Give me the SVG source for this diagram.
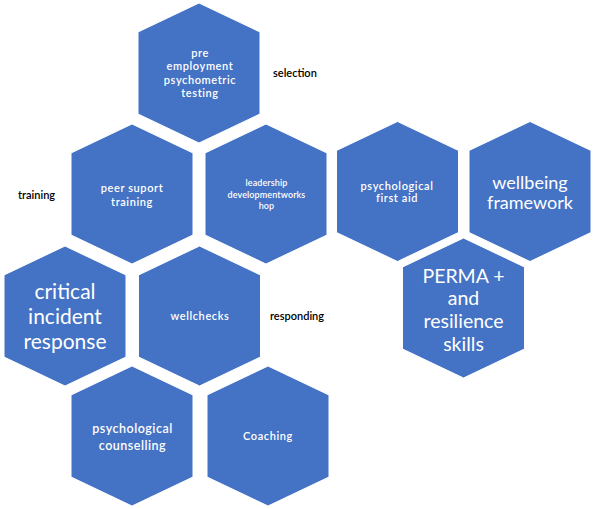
<svg xmlns="http://www.w3.org/2000/svg" width="596" height="509" viewBox="0 0 596 509">
<defs>
<style>
.hex{fill:#4472C4;stroke:#ffffff;stroke-width:1}
text{font-family:Lato,"Liberation Sans",sans-serif;text-anchor:middle;dominant-baseline:central}
.w{fill:#ffffff}
.s{font-size:11px;letter-spacing:0.6px;font-weight:600}
.xs{font-size:9px;font-weight:600;letter-spacing:0.1px}
.m{font-size:12.5px;letter-spacing:0.5px;font-weight:600}
.l{font-size:18px}
.xl{font-size:21px}
.p{font-size:19.5px}
.lab{fill:#000000;font-size:11px;font-weight:600;text-anchor:start}
</style>
<path id="hx" d="M0,-70 L61,-41 L61,41 L0,70 L-61,41 L-61,-41 Z"/>
</defs>
<rect width="596" height="509" fill="#ffffff"/>
<g id="n-pre">
<use href="#hx" class="hex" x="199" y="73"/>
<text class="w s" x="200" y="52">pre</text>
<text class="w s" x="200" y="65.5">employment</text>
<text class="w s" x="200" y="79">psychometric</text>
<text class="w s" x="200" y="92.5">testing</text>
</g>
<g id="n-peer">
<use href="#hx" class="hex" x="132" y="194"/>
<text class="w s" x="132" y="187.5">peer suport</text>
<text class="w s" x="132" y="201">training</text>
</g>
<g id="n-leadership">
<use href="#hx" class="hex" x="266" y="194"/>
<text class="w xs" x="266.5" y="182.5">leadership</text>
<text class="w xs" x="266.5" y="194">developmentworks</text>
<text class="w xs" x="266.5" y="205.5">hop</text>
</g>
<g id="n-pfa">
<use href="#hx" class="hex" x="397.5" y="191.5"/>
<text class="w s" x="397" y="185">psychological</text>
<text class="w s" x="397" y="197.5">first aid</text>
</g>
<g id="n-wellbeing">
<use href="#hx" class="hex" x="530" y="191.5"/>
<text class="w l" x="530" y="181.5">wellbeing</text>
<text class="w l" x="530" y="201.5">framework</text>
</g>
<g id="n-perma">
<use href="#hx" class="hex" x="463.5" y="308"/>
<text class="w p" x="463.5" y="275">PERMA +</text>
<text class="w p" x="463.5" y="297.5">and</text>
<text class="w p" x="463.5" y="320">resilience</text>
<text class="w p" x="463.5" y="343">skills</text>
</g>
<g id="n-critical">
<use href="#hx" class="hex" x="65" y="316"/>
<text class="w xl" x="65" y="290">critical</text>
<text class="w xl" x="65" y="315">incident</text>
<text class="w xl" x="65" y="340">response</text>
</g>
<g id="n-wellchecks">
<use href="#hx" class="hex" x="199.5" y="316"/>
<text class="w s" x="200" y="315">wellchecks</text>
</g>
<g id="n-counselling">
<use href="#hx" class="hex" x="132" y="436"/>
<text class="w m" x="132.5" y="428">psychological</text>
<text class="w m" x="132.5" y="445">counselling</text>
</g>
<g id="n-coaching">
<use href="#hx" class="hex" x="268" y="436"/>
<text class="w s" x="268" y="435">Coaching</text>
</g>
<g id="labels">
<text class="lab" x="273" y="72">selection</text>
<text class="lab" x="18" y="194">training</text>
<text class="lab" x="270" y="315">responding</text>
</g>
<g id="connectors"/>
</svg>
